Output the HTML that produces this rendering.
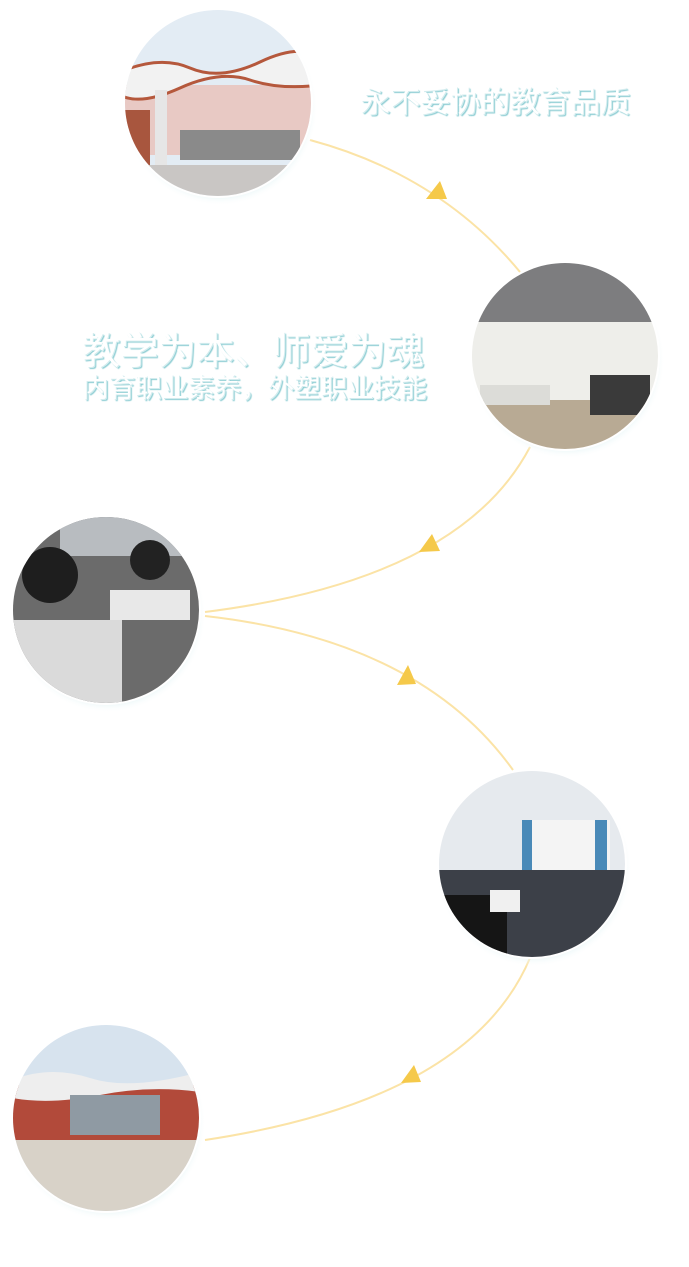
<!DOCTYPE html>
<html><head><meta charset="utf-8"><style>
html,body{margin:0;padding:0;background:#fff;width:689px;height:1267px;overflow:hidden}
.t{position:absolute;font-family:"Liberation Sans","Noto Sans CJK SC",sans-serif;color:#fff;text-shadow:1px 1px 0 #d3ecee,2px 2px 1px #8ccdd3;white-space:nowrap;line-height:1}
</style></head><body>
<svg width="689" height="1267" style="position:absolute;left:0;top:0">
<defs>
<clipPath id="c1"><circle cx="218" cy="103" r="93"/></clipPath>
<clipPath id="c2"><circle cx="565" cy="356" r="93"/></clipPath>
<clipPath id="c3"><circle cx="106" cy="610" r="93"/></clipPath>
<clipPath id="c4"><circle cx="532" cy="864" r="93"/></clipPath>
<clipPath id="c5"><circle cx="106" cy="1118" r="93"/></clipPath>
<radialGradient id="sh"><stop offset="0.85" stop-color="#d6eef0"/><stop offset="1" stop-color="#fff" stop-opacity="0"/></radialGradient>
</defs>
<g fill="none" stroke="#fbe3a6" stroke-width="2">
<path d="M310 140 Q440 175 520 272"/>
<path d="M530 447 Q460 580 205 612"/>
<path d="M205 616 Q420 640 513 770"/>
<path d="M530 958 Q470 1100 205 1140"/>
</g>
<g fill="#f5c94a">
<polygon points="440,181 426,199 447,199"/>
<polygon points="432,534 419,552 440,551"/>
<polygon points="408,665 397,685 416,684"/>
<polygon points="414,1065 401,1083 421,1082"/>
</g>
<g fill="url(#sh)">
<circle cx="220" cy="108" r="98"/><circle cx="567" cy="361" r="98"/><circle cx="108" cy="615" r="98"/><circle cx="534" cy="869" r="98"/><circle cx="108" cy="1123" r="98"/>
</g>
<g fill="#fff"><circle cx="218" cy="103" r="95"/><circle cx="565" cy="356" r="95"/><circle cx="106" cy="610" r="95"/><circle cx="532" cy="864" r="95"/><circle cx="106" cy="1118" r="95"/></g>
<g clip-path="url(#c1)">
<rect x="120" y="0" width="200" height="210" fill="#e3ecf4"/>
<rect x="120" y="85" width="200" height="70" fill="#e8c9c4"/>
<path d="M120 72 Q160 55 190 68 T260 62 T320 58 L320 85 Q280 90 250 80 T180 88 T120 95Z" fill="#f2f2f2" stroke="#b5583c" stroke-width="3"/>
<rect x="120" y="110" width="30" height="60" fill="#a8563e"/>
<rect x="155" y="90" width="12" height="90" fill="#e6e6e6"/>
<rect x="180" y="130" width="120" height="30" fill="#8a8a8a"/>
<rect x="120" y="165" width="200" height="40" fill="#c9c6c4"/>
</g>
<g clip-path="url(#c2)">
<rect x="470" y="262" width="190" height="60" fill="#7d7d7f"/>
<rect x="470" y="322" width="190" height="80" fill="#eeeeea"/>
<rect x="470" y="400" width="190" height="50" fill="#b8aa94"/>
<rect x="480" y="385" width="70" height="20" fill="#dcdcd8"/>
<rect x="590" y="375" width="60" height="40" fill="#3a3a3a"/>
</g>
<g clip-path="url(#c3)">
<rect x="12" y="516" width="190" height="190" fill="#6b6b6b"/>
<rect x="60" y="516" width="140" height="40" fill="#b8bcc0"/>
<rect x="12" y="620" width="110" height="90" fill="#dadada"/>
<rect x="110" y="590" width="80" height="30" fill="#e8e8e8"/>
<circle cx="50" cy="575" r="28" fill="#1e1e1e"/>
<circle cx="150" cy="560" r="20" fill="#222"/>
</g>
<g clip-path="url(#c4)">
<rect x="437" y="770" width="190" height="190" fill="#e6eaee"/>
<rect x="530" y="820" width="80" height="50" fill="#f4f4f4"/>
<rect x="522" y="820" width="10" height="50" fill="#4a8ab8"/>
<rect x="595" y="820" width="12" height="50" fill="#4a8ab8"/>
<rect x="437" y="870" width="190" height="90" fill="#3c4048"/>
<rect x="437" y="895" width="70" height="70" fill="#151515"/>
<rect x="490" y="890" width="30" height="22" fill="#f0f0f0"/>
</g>
<g clip-path="url(#c5)">
<rect x="12" y="1025" width="190" height="190" fill="#d7e3ee"/>
<rect x="12" y="1085" width="190" height="55" fill="#b24a3a"/>
<path d="M12 1080 Q50 1065 90 1078 T200 1072 L200 1092 Q150 1085 100 1095 T12 1098Z" fill="#eee"/>
<rect x="70" y="1095" width="90" height="40" fill="#8f9aa3"/>
<rect x="12" y="1140" width="190" height="80" fill="#d8d2c8"/>
</g>
</svg>
<div class="t" style="left:360px;top:88px;font-size:30px">永不妥协的教育品质</div>
<div class="t" style="left:82px;top:333px;font-size:38px">教学为本、师爱为魂</div>
<div class="t" style="left:82px;top:375px;font-size:26.5px">内育职业素养，外塑职业技能</div>
</body></html>
